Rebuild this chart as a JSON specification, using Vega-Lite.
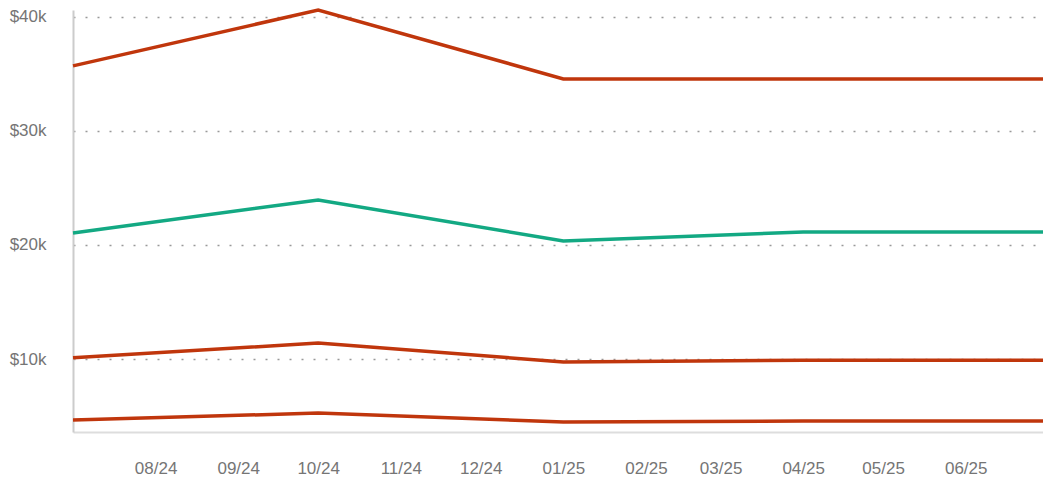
{
  "$schema": "https://vega.github.io/schema/vega-lite/v6.json",
  "width": 970,
  "height": 422,
  "autosize": {"type": "none"},
  "padding": {"left": 73, "top": 10, "right": 0, "bottom": 49},
  "background": "white",
  "config": {"view": {"stroke": null}, "font": "Liberation Sans"},
  "data": {"values": [
    {"date": "2024-07-01", "series": "A", "value": 35700},
    {"date": "2024-10-01", "series": "A", "value": 40600},
    {"date": "2025-01-01", "series": "A", "value": 34560},
    {"date": "2025-04-01", "series": "A", "value": 34560},
    {"date": "2025-06-30", "series": "A", "value": 34560},
    {"date": "2024-07-01", "series": "B", "value": 21050},
    {"date": "2024-10-01", "series": "B", "value": 23950},
    {"date": "2025-01-01", "series": "B", "value": 20350},
    {"date": "2025-04-01", "series": "B", "value": 21140},
    {"date": "2025-06-30", "series": "B", "value": 21140},
    {"date": "2024-07-01", "series": "C", "value": 10100},
    {"date": "2024-10-01", "series": "C", "value": 11400},
    {"date": "2025-01-01", "series": "C", "value": 9740},
    {"date": "2025-04-01", "series": "C", "value": 9900},
    {"date": "2025-06-30", "series": "C", "value": 9900},
    {"date": "2024-07-01", "series": "D", "value": 4650},
    {"date": "2024-10-01", "series": "D", "value": 5260},
    {"date": "2025-01-01", "series": "D", "value": 4470},
    {"date": "2025-04-01", "series": "D", "value": 4560},
    {"date": "2025-06-30", "series": "D", "value": 4560}
  ]},
  "mark": {"type": "line", "strokeWidth": 3.5, "clip": false},
  "encoding": {
    "x": {
      "field": "date",
      "type": "temporal",
      "scale": {"type": "utc", "domain": [{"year": 2024, "month": 7, "date": 1, "utc": true}, {"year": 2025, "month": 6, "date": 30, "utc": true}]},
      "axis": {
        "title": null,
        "format": "%m/%y",
        "values": [
          {"year": 2024, "month": 8, "date": 1, "utc": true},
          {"year": 2024, "month": 9, "date": 1, "utc": true},
          {"year": 2024, "month": 10, "date": 1, "utc": true},
          {"year": 2024, "month": 11, "date": 1, "utc": true},
          {"year": 2024, "month": 12, "date": 1, "utc": true},
          {"year": 2025, "month": 1, "date": 1, "utc": true},
          {"year": 2025, "month": 2, "date": 1, "utc": true},
          {"year": 2025, "month": 3, "date": 1, "utc": true},
          {"year": 2025, "month": 4, "date": 1, "utc": true},
          {"year": 2025, "month": 5, "date": 1, "utc": true},
          {"year": 2025, "month": 6, "date": 1, "utc": true}
        ],
        "grid": false,
        "ticks": false,
        "domainColor": "#dddddd",
        "domainWidth": 2,
        "labelColor": "#757575",
        "labelFontSize": 17,
        "labelPadding": 28,
        "labelFlush": false,
        "labelOverlap": false
      }
    },
    "y": {
      "field": "value",
      "type": "quantitative",
      "scale": {"domain": [3600, 40600], "nice": false, "zero": false},
      "axis": {
        "title": null,
        "values": [10000, 20000, 30000, 40000],
        "labelExpr": "'$' + datum.value/1000 + 'k'",
        "grid": true,
        "gridColor": "#999999",
        "gridDash": [2, 10],
        "gridWidth": 1.5,
        "ticks": false,
        "domainColor": "#cccccc",
        "domainWidth": 2,
        "labelColor": "#757575",
        "labelFontSize": 17,
        "labelPadding": 27
      }
    },
    "color": {
      "field": "series",
      "type": "nominal",
      "scale": {"domain": ["A", "B", "C", "D"], "range": ["#c0360c", "#13a983", "#c0360c", "#c0360c"]},
      "legend": null
    }
  }
}
